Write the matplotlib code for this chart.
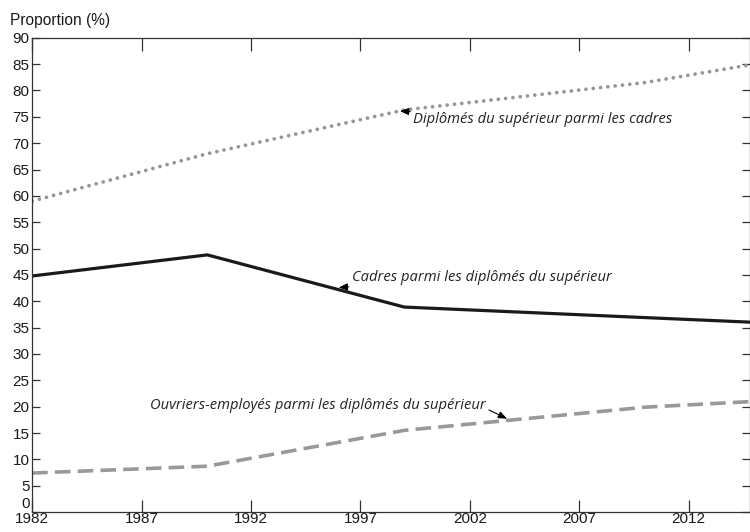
import matplotlib.pyplot as plt
from matplotlib.transforms import ScaledTranslation

years = [1982, 1990, 1999, 2010, 2015]
diplomes_cadres = [59.0, 68.0, 76.3, 81.5, 85.0]
cadres_diplomes = [44.8, 48.8, 38.9, 36.9, 36.0]
ouvriers_diplomes = [7.4, 8.7, 15.5, 19.9, 21.0]

xticks = [1982, 1987, 1992, 1997, 2002, 2007, 2012]
yticks = list(range(0, 95, 5))

plt.rcParams['font.family'] = ['Liberation Sans', 'DejaVu Sans']

fig = plt.figure(figsize=(7.5, 5.32), dpi=100)
ax = fig.add_axes([0.043, 0.0375, 0.957, 0.8915])

ax.plot(years, diplomes_cadres, color='#969696', lw=2.7,
        linestyle=(0, (0.01, 1.95)), dash_capstyle='round')
ax.plot(years, cadres_diplomes, color='#1a1a1a', lw=2.3, solid_joinstyle='miter')
ax.plot(years, ouvriers_diplomes, color='#999999', lw=2.6,
        linestyle=(0, (4.3, 2.0)))

ax.set_xlim(1982, 2014.8)
ax.set_ylim(0, 90)
ax.set_xticks(xticks)
ax.set_yticks(yticks)
ax.tick_params(direction='in', width=0.9, color='#333333', labelcolor='#1a1a1a',
               labelsize=11, top=True, right=True)
ax.tick_params(axis='x', length=9, pad=0)
ax.tick_params(axis='y', length=6, pad=2)
for s in ax.spines.values():
    s.set_linewidth(0.9)
    s.set_color('#333333')

# lift the "0" so it clears the year labels
zero = ax.get_yticklabels()[0]
zero.set_verticalalignment('bottom')
zero.set_transform(zero.get_transform() + ScaledTranslation(0, 1 / 100, fig.dpi_scale_trans))

fig.text(0.013, 0.962, 'Proportion (%)', fontsize=11.2, va='center', ha='left',
         color='#1a1a1a')

note = dict(fontsize=10.6, style='italic', family=['Open Sans', 'DejaVu Sans'],
            color='#222222', va='center', ha='left')
arrow = dict(arrowstyle='-|>,head_length=0.5,head_width=0.2', color='black',
             lw=0.8, shrinkA=0, shrinkB=0)

ax.annotate('Diplômés du supérieur parmi les cadres', xy=(1998.8, 76.1),
            xytext=(1999.4, 74.5), arrowprops=arrow, **note)
ax.annotate('Cadres parmi les diplômés du supérieur', xy=(1996.0, 42.6),
            xytext=(1996.6, 44.6), arrowprops=arrow, **note)
ax.annotate('Ouvriers-employés parmi les diplômés du supérieur', xy=(2003.7, 17.7),
            xytext=(1987.4, 20.2), arrowprops=dict(arrow, relpos=(1.0, 0.3)), **note)

fig.savefig('out.png', dpi=100)
